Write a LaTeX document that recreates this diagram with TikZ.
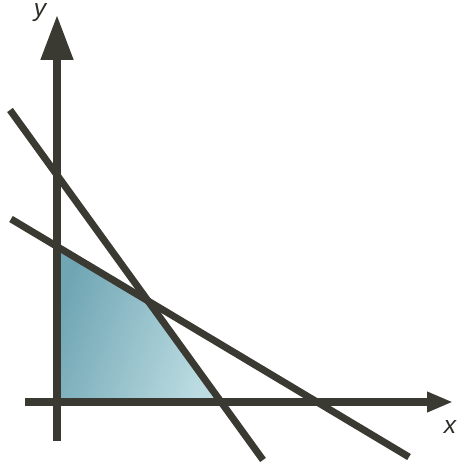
\documentclass[tikz,border=0pt]{standalone}
\usepackage{fontspec}
\setmainfont{Liberation Sans}
\usepackage{xcolor}
\definecolor{inkgray}{RGB}{58,58,50}
\definecolor{tealdark}{RGB}{112,166,180}
\definecolor{teallight}{RGB}{188,220,226}
\usepackage{tikz}
\usetikzlibrary{arrows.meta,calc}

\begin{document}
\begin{tikzpicture}[x=0.02cm, y=-0.02cm,
    axis/.style={draw=inkgray, line width=4.4pt},
    bound/.style={draw=inkgray, line width=4pt},
    lbl/.style={font=\itshape\fontsize{14}{14}\selectfont, text=inkgray!80!black, inner sep=0pt},
  ]
    \useasboundingbox (0,0) rectangle (458,465);

    % feasible region
    \coordinate (p1) at (57,250);
    \coordinate (p2) at (148,301);
    \coordinate (p3) at (219,402);
    \coordinate (p4) at (57,402);
    \shade[left color=tealdark, right color=teallight, shading angle=70]
      (p1) -- (p2) -- (p3) -- (p4) -- cycle;

    % constraint lines
    \coordinate (a1) at (10,110);
    \coordinate (a2) at (263,460);
    \coordinate (b1) at (11,219);
    \coordinate (b2) at (409,457);
    \draw[bound] (a1) -- (a2);
    \draw[bound] (b1) -- (b2);

    % axes
    \coordinate (ybot) at (57,441);
    \coordinate (ytop) at (57,15);
    \coordinate (xleft) at (25,402);
    \coordinate (xright) at (453,402);
    \draw[axis, -{Triangle[length=25.5pt, width=17.6pt]}] (ybot) -- (ytop);
    \draw[axis, -{Triangle[length=14.8pt, width=10.8pt]}] (xleft) -- (xright);

    \node[lbl] (ylab) at (40,13) {y};
    \node[lbl] (xlab) at (450,427) {x};
  \end{tikzpicture}
\end{document}
